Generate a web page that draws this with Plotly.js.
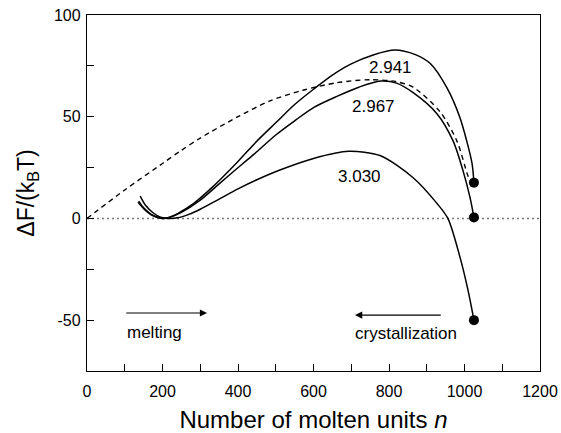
<!DOCTYPE html>
<html>
<head>
<meta charset="utf-8">
<script src="https://cdn.plot.ly/plotly-3.0.1.min.js"></script>
<style>
html,body{margin:0;padding:0;background:#fff;}
#chart{width:561px;height:433px;}
</style>
</head>
<body>
<div id="chart"></div>
<script>
// Curve T = 2.941
const n_2941 = [135, 150, 170, 190, 200, 215, 240, 280, 330, 400, 450, 500, 550, 600, 650, 700, 760, 815, 870, 910, 954, 988, 1006, 1020, 1025];
const F_2941 = [8, 4.8, 1.8, 0.3, 0, 0.4, 2.4, 7, 15, 28, 38, 47, 56, 63.5, 70.5, 76, 80.5, 82.8, 80.5, 76, 64, 49.5, 38, 27, 17.6];
// Curve T = 2.967
const n_2967 = [137, 150, 170, 190, 202, 220, 250, 300, 350, 413, 445, 500, 550, 600, 662, 720, 778, 820, 864, 927, 970, 996, 1015, 1025];
const F_2967 = [8.5, 5.2, 2, 0.4, 0, 0.6, 3, 9, 17, 27, 32, 41, 48, 54.5, 60, 64.5, 67.5, 66.5, 61.8, 51.5, 38, 23.5, 10, 0.5];
// Curve T = 3.030
const n_3030 = [141, 155, 175, 195, 215, 240, 270, 300, 350, 400, 450, 511, 600, 693, 776, 864, 927, 956, 988, 1009, 1025];
const F_3030 = [11, 6.5, 2.8, 0.6, 0, 0.3, 2, 4.5, 9.5, 14.5, 19, 23.8, 29.5, 33, 30.9, 20, 7.4, 0, -19, -35, -50];
// Dashed reference curve
const n_dash = [0, 100, 200, 246, 300, 400, 485, 572, 661, 750, 820, 864, 935, 980, 1009, 1017];
const F_dash = [0, 14, 27, 33, 39.5, 50, 57.8, 63, 66.7, 68.2, 67.2, 64.5, 52.5, 38, 21, 18];
// End points
const n_end = [1025, 1025, 1025];
const F_end = [17.6, 0.5, -50];
// Curve labels
const labelText = ["2.941", "2.967", "3.030"];
const labelN = [803, 760, 722];
const labelF = [74, 55, 20.5];
// Direction arrows: [tail, head]
const meltArrowN = [100, 318];
const meltArrowF = [-46.5, -46.5];
const crystArrowN = [941, 710];
const crystArrowF = [-47.5, -47.5];
// Tick labels
const xTickVals = [0, 200, 400, 600, 800, 1000, 1200];
const xTickText = ["0", "200", "400", "600", "800", "1000", "1200"];
const yTickVals = [-50, 0, 50, 100];
const yTickText = ["-50", "0", "50", "100"];

const FONT = "Liberation Sans, Arial, Helvetica, sans-serif";
const solid = {color: "#000", width: 1.5, shape: "spline", smoothing: 0.8};

const traces = [
  {x: n_dash, y: F_dash, mode: "lines", line: {color: "#000", width: 1.4, dash: "5px,4px", shape: "spline", smoothing: 0.8}, hoverinfo: "skip"},
  {x: n_2941, y: F_2941, mode: "lines", line: solid, hoverinfo: "skip"},
  {x: n_2967, y: F_2967, mode: "lines", line: solid, hoverinfo: "skip"},
  {x: n_3030, y: F_3030, mode: "lines", line: solid, hoverinfo: "skip"},
  {x: n_end, y: F_end, mode: "markers", marker: {color: "#000", size: 10}, hoverinfo: "skip"}
];

const annotations = labelText.map((t, i) => ({
  x: labelN[i], y: labelF[i], xref: "x", yref: "y", text: t, showarrow: false,
  font: {family: FONT, size: 17, color: "#000"}
}));
annotations.push(
  {x: meltArrowN[1], y: meltArrowF[1], ax: meltArrowN[0], ay: meltArrowF[0], xref: "x", yref: "y", axref: "x", ayref: "y",
   text: "", showarrow: true, arrowhead: 2, arrowsize: 1.2, arrowwidth: 1.2, arrowcolor: "#000"},
  {x: crystArrowN[1], y: crystArrowF[1], ax: crystArrowN[0], ay: crystArrowF[0], xref: "x", yref: "y", axref: "x", ayref: "y",
   text: "", showarrow: true, arrowhead: 2, arrowsize: 1.2, arrowwidth: 1.2, arrowcolor: "#000"},
  {x: 100, y: -56, xref: "x", yref: "y", text: "melting", showarrow: false, xanchor: "left",
   font: {family: FONT, size: 17, color: "#000"}},
  {x: 705, y: -56.5, xref: "x", yref: "y", text: "crystallization", showarrow: false, xanchor: "left",
   font: {family: FONT, size: 17, color: "#000"}}
);

const layout = {
  width: 561, height: 433,
  margin: {l: 87, r: 21, t: 15, b: 62},
  paper_bgcolor: "#fff", plot_bgcolor: "#fff",
  showlegend: false,
  font: {family: FONT, color: "#000"},
  xaxis: {
    range: [0, 1200], tickmode: "array", tickvals: xTickVals, ticktext: xTickText,
    showgrid: false, zeroline: false,
    showline: true, mirror: true, linecolor: "#000", linewidth: 1.2,
    ticks: "inside", ticklen: 7, tickwidth: 1, tickcolor: "#000", ticklabelstandoff: 6,
    minor: {dtick: 100, tick0: 0, ticks: "inside", ticklen: 7, tickwidth: 1, tickcolor: "#000"},
    tickfont: {family: FONT, size: 16, color: "#000"},
    title: {text: "Number of molten units <i>n</i>", font: {family: FONT, size: 24, color: "#000"}, standoff: 18}
  },
  yaxis: {
    range: [-75, 100], tickmode: "array", tickvals: yTickVals, ticktext: yTickText,
    showgrid: false, zeroline: false,
    showline: true, mirror: true, linecolor: "#000", linewidth: 1.2,
    ticks: "inside", ticklen: 7, tickwidth: 1, tickcolor: "#000", ticklabelstandoff: 2,
    minor: {dtick: 25, tick0: 0, ticks: "inside", ticklen: 7, tickwidth: 1, tickcolor: "#000"},
    tickfont: {family: FONT, size: 16, color: "#000"},
    title: {text: "ΔF/(k<sub>B</sub>T)", font: {family: FONT, size: 23, color: "#000"}, standoff: 12}
  },
  shapes: [
    {type: "line", xref: "paper", yref: "y", x0: 0, x1: 1, y0: 0, y1: 0,
     line: {color: "#777", width: 1.5, dash: "2px,3px"}, layer: "below"}
  ],
  annotations: annotations
};

Plotly.newPlot("chart", traces, layout, {staticPlot: true, displayModeBar: false});
</script>
</body>
</html>
